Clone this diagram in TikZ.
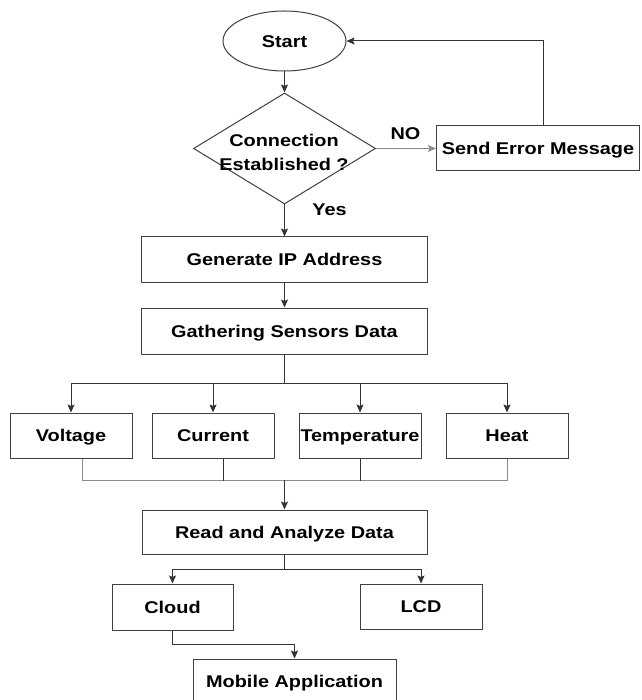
\documentclass[tikz,border=0pt]{standalone}
\usepackage{fontspec}
\setmainfont{Liberation Sans}[FakeStretch=1.17]
\usetikzlibrary{shapes.geometric,arrows.meta}
\begin{document}
\begin{tikzpicture}[x=1pt,y=-1pt,
  every node/.style={font=\fontsize{17}{24}\selectfont\bfseries},
  box/.style={draw=black!75, line width=1pt, rectangle, inner sep=0pt, text height=12.2pt, text depth=0pt},
  conn/.style={draw=black!80, line width=1pt},
  arr/.style={conn, -{Stealth[length=8pt,width=7pt,inset=1.5pt]}},
  lite/.style={draw=black!45, line width=1pt}]
\useasboundingbox (0,0) rectangle (641,700);
\clip (0,0) rectangle (641,700);
\fill[white] (0,0) rectangle (641,700);
% nodes
\node[draw=black!75, line width=1pt, ellipse, minimum width=123pt, minimum height=60pt, inner sep=0pt, text height=12.2pt, text depth=0pt] (start) at (284.5,41) {Start};
\node[draw=black!75, line width=1pt, diamond, minimum width=182pt, minimum height=111pt, inner sep=0pt] (dec) at (284.5,148.5) {};
\node[align=center, inner sep=0pt] (dect) at (284,152) {Connection\\Established ?};
\node[box, minimum width=203pt, minimum height=45pt] (err) at (538,148.5) {Send Error Message};
\node[inner sep=0pt] (no) at (405.5,134) {NO};
\node[inner sep=0pt] (yes) at (329.5,209.5) {Yes};
\node[box, minimum width=286pt, minimum height=45pt] (gen) at (284.5,259.5) {Generate IP Address};
\node[box, minimum width=286pt, minimum height=46pt] (gat) at (284.5,331) {Gathering Sensors Data};
\node[box, minimum width=122pt, minimum height=45pt] (volt) at (71,435.5) {Voltage};
\node[box, minimum width=122pt, minimum height=45pt] (cur) at (213,435.5) {Current};
\node[box, minimum width=122pt, minimum height=45pt] (temp) at (360,435.5) {Temperature};
\node[box, minimum width=122pt, minimum height=45pt] (heat) at (507,435.5) {Heat};
\node[box, minimum width=285pt, minimum height=44pt] (read) at (284.5,532) {Read and Analyze Data};
\node[box, minimum width=121pt, minimum height=46pt] (cloud) at (172.5,607) {Cloud};
\node[box, minimum width=122pt, minimum height=45pt] (lcd) at (421,606.5) {LCD};
\node[box, minimum width=203pt, minimum height=45pt] (mob) at (294.5,681.5) {Mobile Application};
\coordinate (br) at (284.5,383);
\coordinate (mg) at (284.5,480);
\coordinate (br2) at (284.5,569);
% connectors
\draw[arr] (start.south) -- (dec.north);
\draw[arr, draw=black!45] (dec.east) -- (err.west);
\draw[arr] ([xshift=5pt]err.north) |- (start.east);
\draw[arr] (dec.south) -- (gen.north);
\draw[arr] (gen.south) -- (gat.north);
\draw[conn] (gat.south) -- (br);
\draw[arr] (br) -| (volt.north);
\draw[arr] (br) -| (cur.north);
\draw[arr] (br) -| (temp.north);
\draw[arr] (br) -| (heat.north);
\draw[lite] ([xshift=11pt]volt.south) |- (mg);
\draw[lite] (heat.south) |- (mg);
\draw[conn] ([xshift=10pt]cur.south) -- ++(0,22);
\draw[conn] (temp.south) -- ++(0,22);
\draw[arr] (mg) -- (read.north);
\draw[conn] (read.south) -- (br2);
\draw[arr] (br2) -| (cloud.north);
\draw[arr] (br2) -| (lcd.north);
\draw[arr] (cloud.south) -- ++(0,14) -| (mob.north);
\end{tikzpicture}
\end{document}
